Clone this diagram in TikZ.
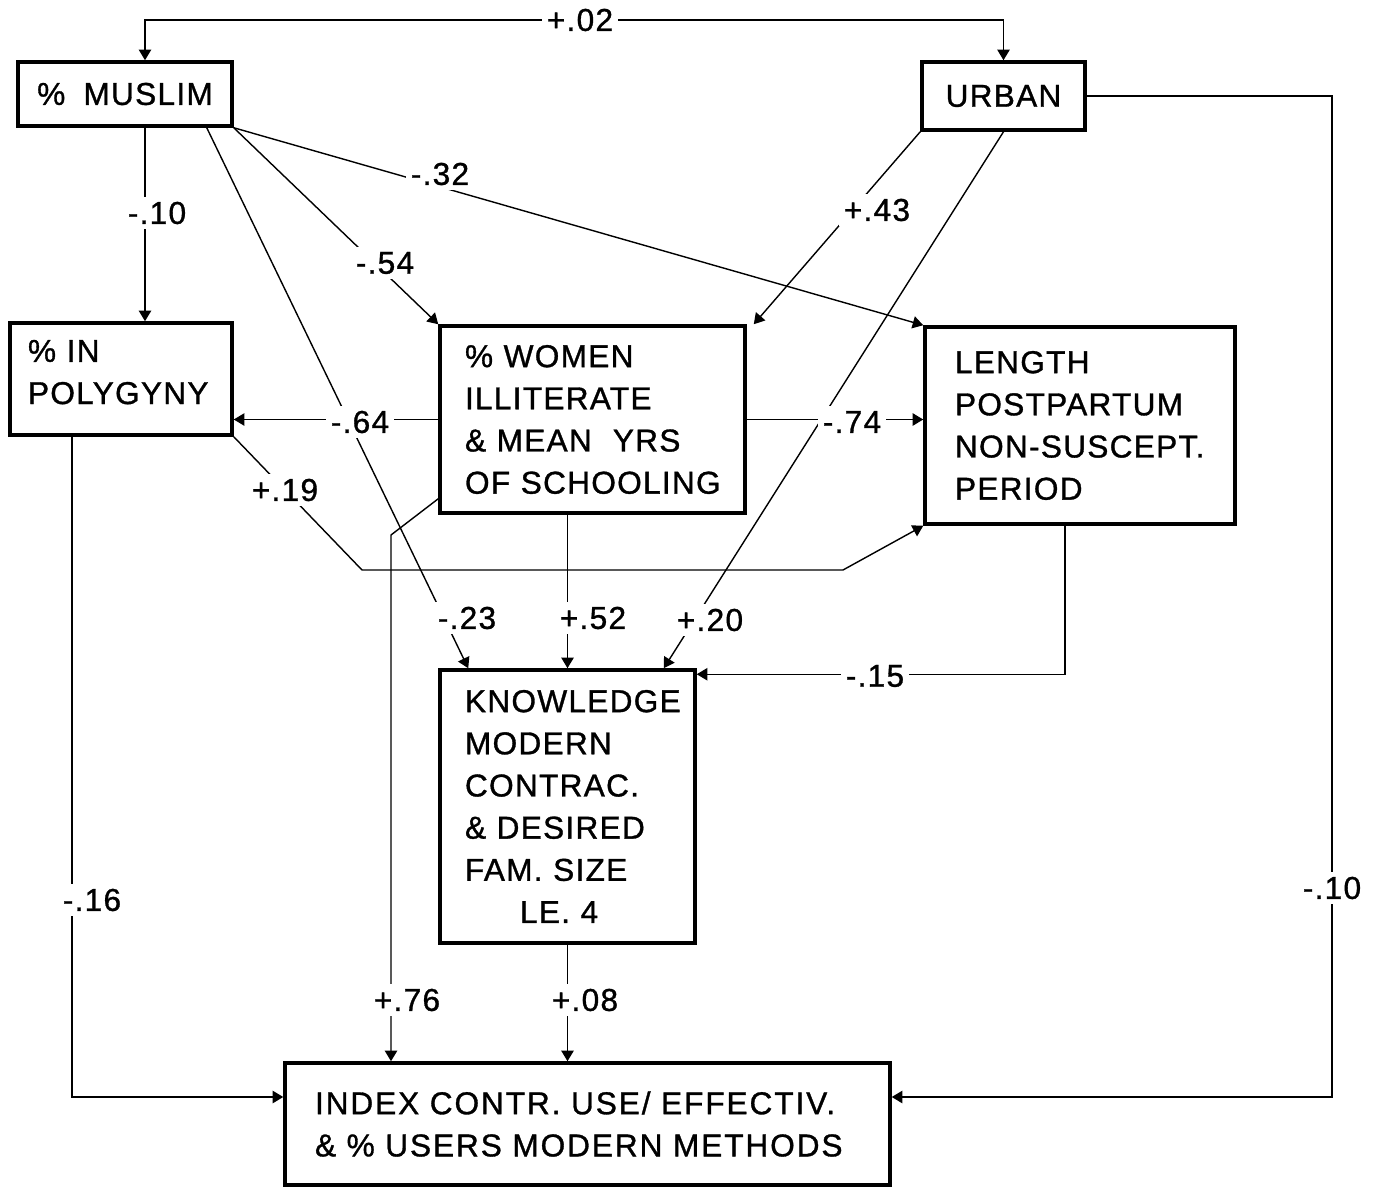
\documentclass[tikz,border=0pt]{standalone}
\usepackage{fontspec}
\setmainfont{Liberation Sans}[LetterSpace=4, WordSpace=1.8, FakeBold=1]
\newfontfamily\indexfont{Liberation Sans}[LetterSpace=6, WordSpace=2.6, FakeBold=1]
\usetikzlibrary{arrows.meta,calc}
\tikzset{box/.style={draw, line width=2pt, align=left, inner sep=0pt, font=\fontsize{18}{24}\selectfont}}
\tikzset{conn/.style={line width=0.8pt}}
\tikzset{lbl/.style={fill=white, inner sep=3pt, font=\fontsize{18}{24}\selectfont}}

\begin{document}
\begin{tikzpicture}[>={Triangle[length=6pt,width=7pt]}]
        \useasboundingbox (0,0) rectangle (27.68,-23.76);

        % variables
        \node[box, align=center, minimum width=4.28cm, minimum height=1.28cm] (muslim) at (2.5, -1.88) {\% MUSLIM};
        \node[box, align=center, minimum width=3.26cm, minimum height=1.36cm] (urban) at (20.07, -1.92) {URBAN};
        \node[box, minimum width=4.44cm, minimum height=2.24cm, text width=3.72cm, text depth=32pt] (polyg) at (2.42, -7.58)
        {\% IN\\\mbox{POLYGYNY}};
        \node[box, minimum width=6.1cm, minimum height=3.74cm, text width=5.1cm] (women) at (11.85, -8.39)
        {\% WOMEN\\ILLITERATE\\\mbox{\& MEAN\ \ YRS}\\\mbox{OF SCHOOLING}};
        \node[box, minimum width=6.2cm, minimum height=3.94cm, text width=5.0cm] (length) at (21.6, -8.51)
        {LENGTH\\POSTPARTUM\\\mbox{NON-SUSCEPT.}\\PERIOD};
        \node[box, minimum width=5.1cm, minimum height=5.46cm, text width=4.1cm] (know) at (11.35, -16.13)
        {\mbox{KNOWLEDGE}\\MODERN\\CONTRAC.\\\& DESIRED\\FAM. SIZE\\\hspace*{1.1cm}LE. 4};
        \node[box, minimum width=12.1cm, minimum height=2.44cm, text width=10.9cm,
              font=\indexfont\fontsize{18}{24}\selectfont] (index) at (11.75, -22.48)
        {\mbox{INDEX CONTR. USE/ EFFECTIV.}\\\mbox{\& \% USERS MODERN METHODS}};

        % bends
        \coordinate (ctop) at (11.6, -0.4);
        \coordinate (cright) at (26.64, -17.76);
        \coordinate (cb1) at (7.24, -11.4);
        \coordinate (cb2) at (16.86, -11.4);
        \coordinate (cw) at (7.82, -10.7);
        \coordinate (mdown) at ($(muslim.south)+(0.4,0)$);

        % paths
        \draw [conn, <->] ($(muslim.north)+(0.4,0)$) |- (ctop) -| (urban.north);
        \draw [conn, ->] (mdown) -- (mdown |- polyg.north);
        \draw [conn, ->] ($(muslim.south east)+(-0.54,0)$) -- ($(know.north west)+(0.6,0)$);
        \draw [conn, ->] (muslim.south east) -- (women.north west);
        \draw [conn, ->] (muslim.south east) -- (length.north west);
        \draw [conn, ->] (urban.south west) -- ($(women.north east)+(0.14,0)$);
        \draw [conn, ->] (urban.south) -- ($(know.north east)+(-0.66,0)$);
        \draw [conn, ->] (urban.east) -| (cright) |- ($(index.east)+(0,0.54)$);
        \draw [conn, ->] (women.west) -- (women.west -| polyg.east);
        \draw [conn, ->] (women.east) -- (women.east -| length.west);
        \draw [conn, ->] (polyg.south east) -- (cb1) -- (cb2) -- (length.south west);
        \draw [conn, ->] ($(women.south west)+(0,0.32)$) -- (cw) -- (cw |- index.north);
        \draw [conn, ->] (know.north |- women.south) -- (know.north);
        \draw [conn, ->] ($(length.south)+(-0.3,0)$) |- ($(know.north east)+(0,-0.12)$);
        \draw [conn, ->] (know.south) -- (know.south |- index.north);
        \draw [conn, ->] ($(polyg.south)+(-0.98,0)$) |- ($(index.west)+(0,0.54)$);

        % coefficients
        \node[lbl] (l02) at (ctop) {+.02};
        \node[lbl] (l10a) at (3.14, -4.26) {-.10};
        \node[lbl] (l32) at (8.8, -3.48) {-.32};
        \node[lbl] (l54) at (7.7, -5.26) {-.54};
        \node[lbl] (l43) at (17.54, -4.2) {+.43};
        \node[lbl] (l64) at (7.2, -8.44) {-.64};
        \node[lbl] (l74) at (17.04, -8.44) {-.74};
        \node[lbl] (l19) at (5.7, -9.8) {+.19};
        \node[lbl] (l23) at (9.34, -12.36) {-.23};
        \node[lbl] (l52) at (11.86, -12.36) {+.52};
        \node[lbl] (l20) at (14.2, -12.4) {+.20};
        \node[lbl] (l15) at (17.5, -13.52) {-.15};
        \node[lbl] (l16) at (1.84, -18) {-.16};
        \node[lbl] (l76) at (8.14, -20) {+.76};
        \node[lbl] (l08) at (11.7, -20) {+.08};
        \node[lbl] (l10b) at (cright) {-.10};
    \end{tikzpicture}
\end{document}
